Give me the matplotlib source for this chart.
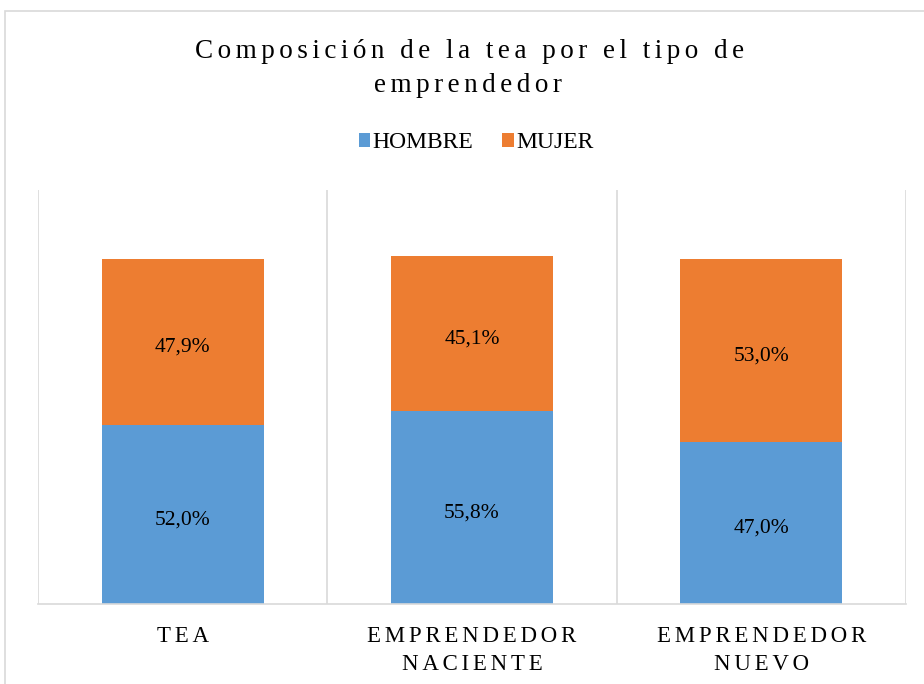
import matplotlib
matplotlib.use("Agg")
import matplotlib.pyplot as plt
from matplotlib.patches import Rectangle
import numpy as np

plt.rcParams['font.family'] = ['Liberation Serif', 'DejaVu Serif']

# Data
categories = ['TEA', 'EMPRENDEDOR\nNACIENTE', 'EMPRENDEDOR\nNUEVO']
hombre = [52.0, 55.8, 47.0]
mujer = [47.9, 45.1, 53.0]
series_names = ['HOMBRE', 'MUJER']
colors = ['#5B9BD5', '#ED7D31']


def spaced(s, sep='\u200a\u200a'):
    # fake letter spacing
    return '\n'.join(sep.join(line) for line in s.split('\n'))


fig = plt.figure(figsize=(9.24, 6.84), dpi=100)
# chart frame
fig.patches.append(Rectangle((5 / 924, -0.1), 1.2, (684 - 11) / 684 + 0.1,
                             transform=fig.transFigure, fill=False,
                             edgecolor='#D9D9D9', linewidth=1.2))

ax = fig.add_axes([38 / 924, 80 / 684, 868 / 924, 414 / 684])
x = np.arange(len(categories))
w = 0.56
b1 = ax.bar(x, hombre, w, color=colors[0], label=series_names[0])
b2 = ax.bar(x, mujer, w, bottom=hombre, color=colors[1], label=series_names[1])

for bars, vals, bots in [(b1, hombre, [0] * 3), (b2, mujer, hombre)]:
    for r, v, b in zip(bars, vals, bots):
        ax.annotate(f'{v:.1f}%'.replace('.', ','),
                    (r.get_x() + r.get_width() / 2, b + v / 2),
                    xytext=(0, -4), textcoords='offset points',
                    ha='center', va='center', fontsize=15.5, color='#000000')

ax.set_xlim(-0.5, len(categories) - 0.5)
ax.set_ylim(0, 120)
ax.set_yticks([])
ax.set_xticks(x)
ax.set_xticklabels([spaced(c) for c in categories], fontsize=16.5,
                   linespacing=1.45)
ax.tick_params(axis='x', length=0, pad=16)
for s in ['top', 'right', 'left']:
    ax.spines[s].set_visible(False)
ax.spines['bottom'].set_color('#D9D9D9')
ax.spines['bottom'].set_linewidth(1.2)
for b in np.arange(-0.5, len(categories), 1.0):
    ax.axvline(b, color='#D9D9D9', linewidth=1.2, zorder=0)

fig.text(470 / 924, 1 - 51 / 684, spaced('Composición de la tea por el tipo de'),
         ha='center', va='center', fontsize=19.5)
fig.text(468 / 924, 1 - 86 / 684, spaced('emprendedor'),
         ha='center', va='center', fontsize=19.5)

fig.legend(handles=[b1, b2], loc='center', bbox_to_anchor=(476 / 924, 1 - 143 / 684),
           ncol=2, frameon=False, fontsize=17, handlelength=0.5,
           handleheight=0.5, handletextpad=0.1, columnspacing=1.2)

fig.savefig('out.png', dpi=100)
